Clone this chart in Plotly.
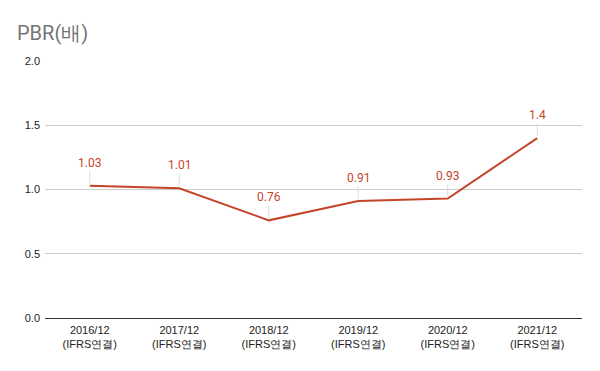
import plotly.graph_objects as go

categories = ["2016/12<br>(IFRS연결)", "2017/12<br>(IFRS연결)", "2018/12<br>(IFRS연결)",
              "2019/12<br>(IFRS연결)", "2020/12<br>(IFRS연결)", "2021/12<br>(IFRS연결)"]
values = [1.03, 1.01, 0.76, 0.91, 0.93, 1.4]
labels = ["1.03", "1.01", "0.76", "0.91", "0.93", "1.4"]
y_ticks = [0.0, 0.5, 1.0, 1.5, 2.0]

line_color = "#c5452b"

fig = go.Figure()
fig.add_trace(go.Scatter(x=categories, y=values, mode="lines",
                         line=dict(color=line_color, width=2), hoverinfo="skip"))

for c, v, t in zip(categories, values, labels):
    fig.add_annotation(x=c, y=v, text=t, showarrow=True, arrowhead=0, arrowwidth=1,
                       arrowcolor="#dddddd", ax=0, ay=-23, standoff=2,
                       font=dict(family="Roboto", size=12, color=line_color))

fig.update_layout(
    width=600, height=371,
    margin=dict(l=37, r=26, t=53, b=61, autoexpand=False),
    paper_bgcolor="white", plot_bgcolor="white",
    showlegend=False,
    title=dict(text="PBR(배)", x=9 / 600, xref="container", xanchor="left",
               y=1 - 25 / 371, yref="container", yanchor="middle", pad=dict(l=0, t=0, b=0, r=0),
               font=dict(family="Roboto", size=20, color="#757575")),
    xaxis=dict(showgrid=False, range=[-0.5, 5.5], automargin=False,
               tickfont=dict(family="Liberation Sans, Arial", size=11, color="#222222"),
               ticks="", showline=False, ticklabelstandoff=4),
    yaxis=dict(range=[0, 2], tickvals=y_ticks, tickformat=".1f", showgrid=True, automargin=False,
               gridcolor="#cccccc", gridwidth=1, zeroline=True, zerolinecolor="#333333",
               zerolinewidth=1, ticks="", showline=False, ticklabelstandoff=4,
               tickfont=dict(family="Liberation Sans, Arial", size=11, color="#222222")),
)

fig.write_html("out.html")
